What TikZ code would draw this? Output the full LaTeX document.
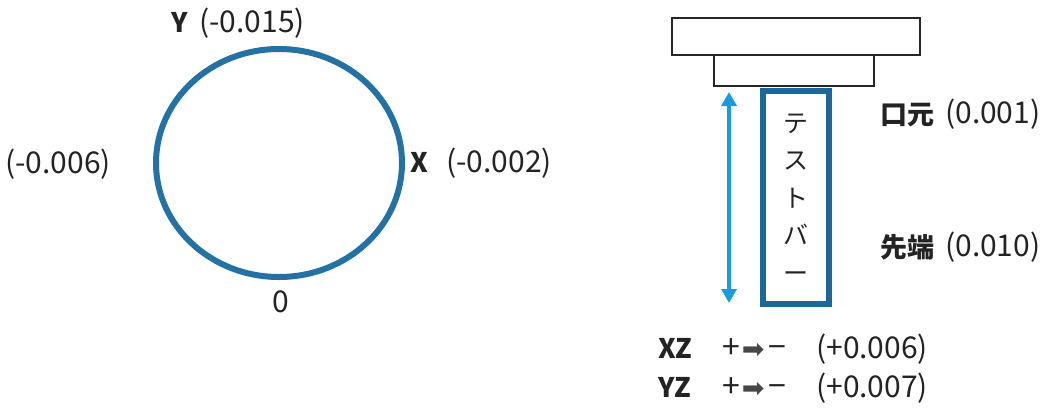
\documentclass[tikz,border=0pt]{standalone}
\usepackage{fontspec}
\setmainfont{Noto Sans CJK JP}
\newfontfamily\symfont{DejaVu Sans}
\usetikzlibrary{shapes.geometric,arrows.meta}
\definecolor{ringblue}{RGB}{35,114,163}
\definecolor{bardark}{RGB}{30,104,152}
\definecolor{arrowblue}{RGB}{28,154,222}
\definecolor{txt}{RGB}{35,35,35}
\definecolor{symgray}{RGB}{70,70,70}
\tikzset{
  lbl/.style={inner sep=0pt, anchor=base west, text=txt, font=\fontsize{30}{35}\selectfont},
  bold/.style={lbl, font=\fontsize{27}{32}\selectfont\bfseries},
  plate/.style={draw=black!85, line width=1.6pt, inner sep=0pt, anchor=north west, fill=white},
}
\begin{document}
\begin{tikzpicture}[x=1pt,y=-1pt]
\useasboundingbox (0,0) rectangle (1046,410);
% ring
\node[ellipse, draw=ringblue, line width=6pt, minimum width=246pt, minimum height=228pt, inner sep=0pt] (ring) at (279,163) {};
\node[bold] (ylet) at (171,32) {Y};
\node[lbl] (yval) at (199,32) {(-0.015)};
\node[lbl] (lval) at (5,173) {(-0.006)};
\node[bold] (xlet) at (410,172) {X};
\node[lbl] (xval) at (446,172) {(-0.002)};
\node[lbl, anchor=base] (zero) at (280.5,312) {0};
% holder plates
\node[plate, minimum width=248pt, minimum height=37pt] (plate1) at (671,17) {};
\node[plate, minimum width=160pt, minimum height=31pt] (plate2) at (713,54) {};
% test bar
\node[draw=bardark, line width=6pt, minimum width=66pt, minimum height=213pt, inner sep=0pt] (bar) at (796,197.5) {};
\node[inner sep=0pt, align=center, text=txt, font=\fontsize{25}{37.5}\selectfont] (bartext) at (796,198) {テ\\ス\\ト\\バ\\ー};
% double arrow
\coordinate (atop) at (729,92);
\coordinate (abot) at (729,303);
\draw[arrowblue, line width=4pt, {Triangle[width=15pt,length=14pt]}-{Triangle[width=15pt,length=14pt]}] (atop) -- (abot);
% right labels
\node[bold] (kuchi) at (880,124) {口元};
\node[lbl] (kval) at (945,123) {(0.001)};
\node[bold] (saki) at (880,257) {先端};
\node[lbl] (sval) at (945,256) {(0.010)};
\node[bold] (xz) at (658,358) {XZ};
\node[lbl, font=\fontsize{32}{36}\selectfont] (xzs) at (722,358) {+\hspace{2pt}{\symfont\fontsize{27}{32}\selectfont\color{symgray}➡}\hspace{4pt}−};
\node[lbl] (xzv) at (816,358) {(+0.006)};
\node[bold] (yz) at (658,397) {YZ};
\node[lbl, font=\fontsize{32}{36}\selectfont] (yzs) at (722,397) {+\hspace{2pt}{\symfont\fontsize{27}{32}\selectfont\color{symgray}➡}\hspace{4pt}−};
\node[lbl] (yzv) at (816,397) {(+0.007)};
\end{tikzpicture}
\end{document}
